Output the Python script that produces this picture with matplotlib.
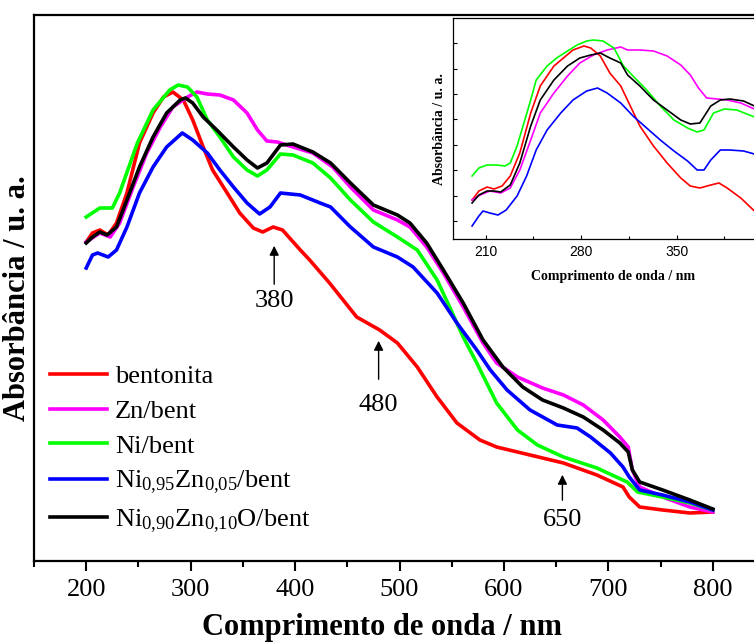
import matplotlib
matplotlib.use("Agg")
import matplotlib.pyplot as plt
from matplotlib.ticker import MultipleLocator

plt.rcParams['font.family'] = ['Liberation Serif', 'DejaVu Serif']
plt.rcParams['mathtext.fontset'] = 'custom'
plt.rcParams['mathtext.rm'] = 'Liberation Serif'
plt.rcParams['mathtext.it'] = 'Liberation Serif:italic'
plt.rcParams['mathtext.bf'] = 'Liberation Serif:bold'

# ---- main spectra (wavelength nm, absorbance a.u.) ----
red_x = [200, 206, 213, 221, 229, 239, 251, 264, 274, 283, 293, 302, 312, 321, 335, 347,
         360, 369, 379, 388, 405, 414, 433, 459, 481, 498, 517, 536, 555, 577, 593, 613,
         637, 657, 689, 714, 720, 730, 752, 778, 800]
red_y = [3.19, 3.28, 3.31, 3.26, 3.38, 3.68, 4.18, 4.48, 4.64, 4.69, 4.61, 4.41, 4.14, 3.91,
         3.68, 3.48, 3.33, 3.29, 3.34, 3.31, 3.11, 3.01, 2.78, 2.44, 2.31, 2.18, 1.94, 1.64,
         1.38, 1.21, 1.14, 1.09, 1.03, 0.98, 0.86, 0.74, 0.64, 0.54, 0.51, 0.48, 0.49]

mag_x = [200, 213, 223, 232, 245, 258, 271, 283, 297, 306, 316, 328, 341, 354, 364, 373,
         383, 398, 417, 436, 453, 475, 498, 510, 526, 542, 561, 580, 593, 613, 637, 657,
         676, 695, 711, 719, 723, 730, 752, 778, 800]
mag_y = [3.19, 3.28, 3.24, 3.38, 3.74, 4.08, 4.34, 4.54, 4.64, 4.69, 4.67, 4.66, 4.61, 4.48,
         4.31, 4.20, 4.19, 4.14, 4.08, 3.94, 3.74, 3.51, 3.41, 3.34, 3.14, 2.88, 2.54, 2.18,
         1.98, 1.84, 1.73, 1.66, 1.56, 1.41, 1.24, 1.14, 0.91, 0.74, 0.64, 0.54, 0.49]

grn_x = [200, 213, 225, 232, 249, 264, 280, 288, 297, 306, 316, 328, 341, 354, 364, 373,
         386, 398, 417, 434, 453, 475, 498, 517, 536, 548, 561, 574, 593, 613, 632, 657,
         689, 718, 728, 752, 778, 800]
grn_y = [3.44, 3.53, 3.53, 3.68, 4.18, 4.51, 4.71, 4.76, 4.74, 4.64, 4.41, 4.24, 4.04, 3.91,
         3.85, 3.91, 4.07, 4.06, 3.98, 3.83, 3.61, 3.39, 3.24, 3.11, 2.81, 2.54, 2.24, 1.98,
         1.58, 1.31, 1.16, 1.04, 0.93, 0.79, 0.69, 0.64, 0.58, 0.51]

blu_x = [200, 206, 211, 221, 229, 239, 251, 264, 277, 292, 302, 316, 328, 341, 354, 366,
         376, 386, 405, 424, 434, 453, 475, 498, 513, 536, 555, 574, 587, 603, 625, 651,
         670, 683, 702, 714, 720, 730, 752, 778, 800]
blu_y = [2.93, 3.06, 3.08, 3.04, 3.11, 3.34, 3.68, 3.94, 4.14, 4.28, 4.21, 4.08, 3.91, 3.74,
         3.58, 3.47, 3.54, 3.68, 3.66, 3.58, 3.54, 3.34, 3.14, 3.04, 2.94, 2.68, 2.38, 2.11,
         1.91, 1.71, 1.51, 1.36, 1.33, 1.24, 1.08, 0.94, 0.84, 0.71, 0.66, 0.59, 0.51]

blk_x = [200, 206, 213, 220, 229, 239, 251, 264, 277, 290, 295, 302, 312, 325, 341, 354,
         364, 373, 386, 398, 417, 434, 453, 475, 498, 510, 526, 542, 561, 580, 599, 618,
         637, 657, 676, 695, 711, 719, 723, 730, 752, 778, 800]
blk_y = [3.18, 3.24, 3.29, 3.26, 3.34, 3.61, 3.94, 4.24, 4.48, 4.61, 4.63, 4.58, 4.44, 4.31,
         4.14, 4.01, 3.93, 3.98, 4.16, 4.17, 4.09, 3.98, 3.78, 3.56, 3.46, 3.38, 3.18, 2.91,
         2.58, 2.21, 1.94, 1.74, 1.61, 1.53, 1.44, 1.31, 1.18, 1.09, 0.91, 0.79, 0.71, 0.61,
         0.52]

# ---- inset spectra ----
in_red_x = [200, 205, 211, 216, 222, 228, 235, 243, 250, 260, 267, 274, 282, 287, 294, 301,
            309, 316, 323, 333, 343, 353, 360, 367, 375, 381, 387, 397, 407]
in_red_y = [0.39, 0.48, 0.52, 0.50, 0.53, 0.63, 0.86, 1.26, 1.53, 1.73, 1.81, 1.89, 1.93, 1.91,
            1.83, 1.66, 1.53, 1.33, 1.13, 0.93, 0.76, 0.61, 0.53, 0.51, 0.54, 0.56, 0.51, 0.41,
            0.28]
in_mag_x = [200, 206, 213, 221, 228, 235, 243, 250, 260, 270, 279, 289, 299, 309, 314, 323,
            333, 343, 353, 360, 366, 372, 380, 387, 397, 407]
in_mag_y = [0.39, 0.44, 0.48, 0.46, 0.51, 0.69, 0.99, 1.26, 1.46, 1.63, 1.76, 1.84, 1.89, 1.92,
            1.89, 1.89, 1.88, 1.83, 1.74, 1.64, 1.51, 1.41, 1.40, 1.39, 1.36, 1.30]
in_grn_x = [200, 205, 211, 218, 224, 228, 233, 238, 243, 247, 255, 262, 270, 277, 284, 289,
            296, 304, 311, 318, 328, 338, 348, 358, 365, 370, 377, 385, 394, 407]
in_grn_y = [0.63, 0.71, 0.74, 0.74, 0.73, 0.76, 0.93, 1.16, 1.39, 1.59, 1.73, 1.81, 1.88, 1.94,
            1.98, 1.99, 1.98, 1.91, 1.73, 1.63, 1.49, 1.33, 1.19, 1.11, 1.07, 1.09, 1.26, 1.30,
            1.29, 1.22]
in_blu_x = [200, 205, 208, 213, 219, 225, 233, 240, 247, 255, 265, 274, 284, 292, 299, 309,
            318, 328, 338, 348, 358, 365, 370, 375, 382, 389, 399, 407]
in_blu_y = [0.13, 0.23, 0.28, 0.26, 0.24, 0.29, 0.43, 0.63, 0.89, 1.09, 1.26, 1.39, 1.48, 1.51,
            1.46, 1.36, 1.23, 1.11, 0.99, 0.88, 0.78, 0.69, 0.69, 0.79, 0.89, 0.89, 0.88, 0.85]
in_blk_x = [200, 205, 211, 216, 221, 228, 235, 243, 250, 260, 270, 279, 287, 294, 301, 309,
            314, 323, 333, 343, 353, 360, 367, 375, 382, 389, 399, 407]
in_blk_y = [0.36, 0.44, 0.48, 0.48, 0.47, 0.54, 0.76, 1.13, 1.39, 1.59, 1.73, 1.81, 1.84, 1.86,
            1.81, 1.76, 1.64, 1.53, 1.39, 1.29, 1.19, 1.15, 1.16, 1.33, 1.39, 1.40, 1.38, 1.33]

labels = ['bentonita', 'Zn/bent', 'Ni/bent',
          r'Ni$_{0{,}95}$Zn$_{0{,}05}$/bent',
          r'Ni$_{0{,}90}$Zn$_{0{,}10}$O/bent']
colors = ['#ff0000', '#ff00ff', '#00ff00', '#0000ff', '#000000']

# arrows: (wavelength, tip, tail, text y, text)
marks = [(380, 3.18, 2.74, 2.60, '380'),
         (480, 2.23, 1.79, 1.56, '480'),
         (656, 0.89, 0.58, 0.41, '650')]

fig = plt.figure(figsize=(7.54, 6.43), dpi=100)
ax = fig.add_axes([34 / 754, 82 / 643, 731 / 754, 546 / 643])

main = [(red_x, red_y), (mag_x, mag_y), (grn_x, grn_y), (blu_x, blu_y), (blk_x, blk_y)]
for (xs, ys), c, lab in zip(main, colors, labels):
    ax.plot(xs, ys, color=c, lw=2.6, label=lab, solid_joinstyle='round')

ax.set_xlim(150, 850)
ax.set_ylim(0, 5.46)
ax.set_yticks([])
ax.xaxis.set_minor_locator(MultipleLocator(50))
ax.set_xticks(range(200, 801, 100))
ax.tick_params(axis='x', which='major', direction='out', length=7, width=1.5, labelsize=19, pad=6)
ax.tick_params(axis='x', which='minor', direction='out', length=4, width=1.5)
for s in ax.spines.values():
    s.set_linewidth(1.6)
ax.set_xlabel('Comprimento de onda / nm', fontsize=22, fontweight='bold')
ax.set_ylabel('Absorbância / u. a.', fontsize=22, fontweight='bold')
ax.xaxis.set_label_coords(0.476, -0.096)
ax.yaxis.set_label_coords(-0.003, 0.482)

for wl, tip, tail, ty, txt in marks:
    ax.annotate('', xy=(wl, tip), xytext=(wl, tail),
                arrowprops=dict(arrowstyle='-|>', color='k', lw=1, mutation_scale=14))
    ax.text(wl, ty, txt, fontsize=19, ha='center', va='center')

ax.legend(loc='upper left', bbox_to_anchor=(0.022, 0.359), frameon=False, fontsize=19,
          handlelength=2.15, handletextpad=0.3, labelspacing=0.42, borderpad=0,
          borderaxespad=0)

# ---- inset ----
axi = fig.add_axes([452.7 / 754, 404 / 643, 320 / 754, 220.7 / 643])
inset = [(in_red_x, in_red_y), (in_mag_x, in_mag_y), (in_grn_x, in_grn_y),
         (in_blu_x, in_blu_y), (in_blk_x, in_blk_y)]
for (xs, ys), c in zip(inset, colors):
    axi.plot(xs, ys, color=c, lw=1.2)
axi.set_xlim(185.8, 420.4)
axi.set_ylim(0, 2.207)
axi.set_xticks([210, 280, 350])
axi.xaxis.set_minor_locator(MultipleLocator(35))
axi.set_yticks([0.18 + 0.254 * i for i in range(8)])
axi.set_yticklabels([])
axi.tick_params(direction='in', length=3, width=0.8, labelsize=10, pad=4)
axi.tick_params(which='minor', direction='in', length=2, width=0.8)
for lab in axi.get_xticklabels():
    lab.set_family('Liberation Sans')
for s in axi.spines.values():
    s.set_linewidth(0.9)
axi.set_xlabel('Comprimento de onda / nm', fontsize=10, fontweight='bold', labelpad=8)
axi.set_ylabel('Absorbância / u. a.', fontsize=10, fontweight='bold', labelpad=1)

fig.savefig('out.png', dpi=100)
